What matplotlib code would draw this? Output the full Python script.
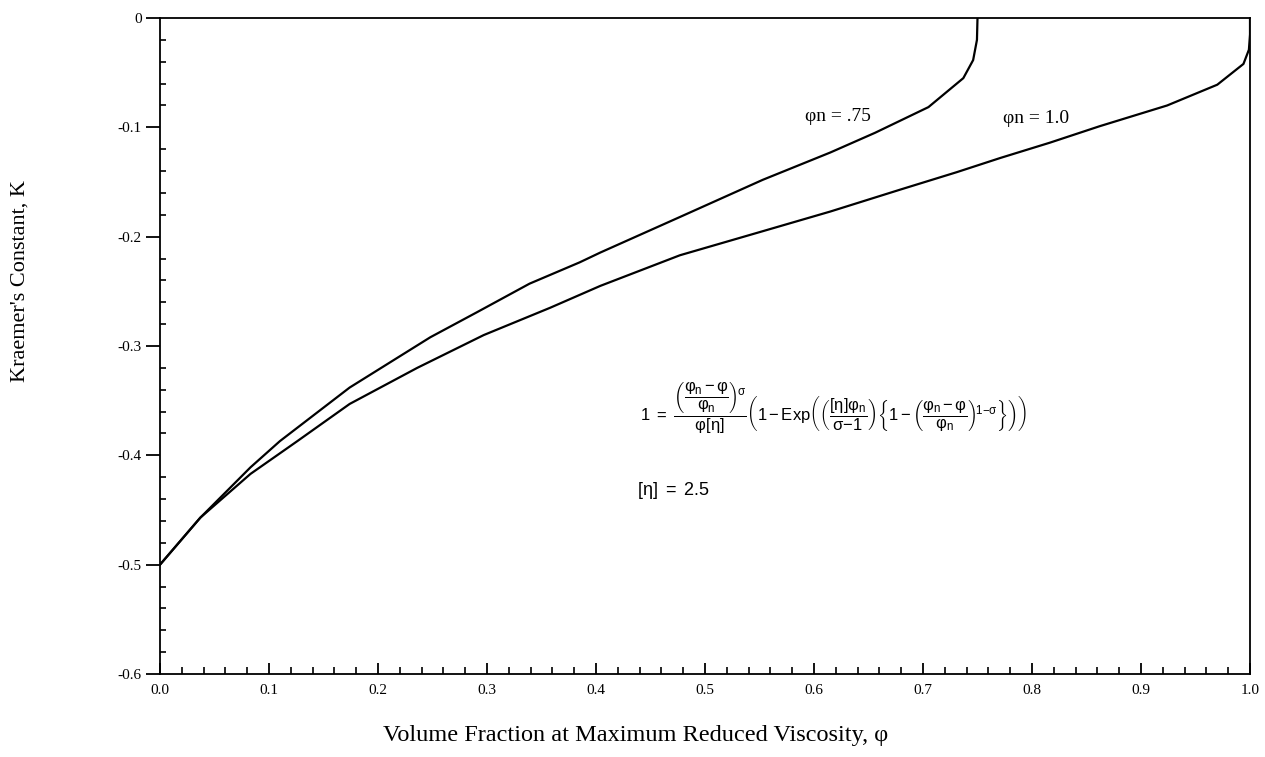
import numpy as np
import matplotlib
matplotlib.use("Agg")
import matplotlib.pyplot as plt
from matplotlib.ticker import MultipleLocator, FixedLocator, FixedFormatter

# ---------------- data: Kraemer constant vs volume fraction ----------------
phi_075 = [0.0, 0.037, 0.083, 0.110, 0.174, 0.248, 0.291, 0.339, 0.385, 0.404,
           0.477, 0.553, 0.615, 0.656, 0.705, 0.737, 0.746, 0.7495, 0.75]
k_075 = [-0.5, -0.457, -0.411, -0.387, -0.338, -0.292, -0.269, -0.243, -0.2235, -0.2145,
         -0.182, -0.148, -0.123, -0.105, -0.0815, -0.055, -0.0385, -0.020, 0.0]

phi_100 = [0.0, 0.037, 0.083, 0.126, 0.174, 0.236, 0.297, 0.358, 0.404, 0.477,
           0.553, 0.615, 0.679, 0.731, 0.771, 0.8165, 0.862, 0.924, 0.970, 0.994,
           0.999, 1.0, 1.0]
k_100 = [-0.5, -0.457, -0.417, -0.387, -0.353, -0.320, -0.290, -0.265, -0.245, -0.217,
         -0.195, -0.177, -0.157, -0.141, -0.128, -0.114, -0.099, -0.080, -0.061, -0.042,
         -0.029, -0.015, 0.0]

x_ticks = [0.0, 0.1, 0.2, 0.3, 0.4, 0.5, 0.6, 0.7, 0.8, 0.9, 1.0]
x_labels = ["0.0", "0.1", "0.2", "0.3", "0.4", "0.5", "0.6", "0.7", "0.8", "0.9", "1.0"]
y_ticks = [0.0, -0.1, -0.2, -0.3, -0.4, -0.5, -0.6]
y_labels = ["0", "-0.1", "-0.2", "-0.3", "-0.4", "-0.5", "-0.6"]

# ---------------- fonts ----------------
plt.rcParams["font.family"] = ["Liberation Serif", "DejaVu Serif"]
plt.rcParams["axes.unicode_minus"] = False
plt.rcParams["mathtext.fontset"] = "custom"
plt.rcParams["mathtext.rm"] = "Liberation Sans"
plt.rcParams["mathtext.it"] = "Liberation Sans"
plt.rcParams["mathtext.bf"] = "Liberation Sans:bold"
plt.rcParams["mathtext.sf"] = "Liberation Sans"

fig = plt.figure(figsize=(12.65, 7.57), dpi=100)
ax = fig.add_axes([160 / 1265, 1 - 674 / 757, 1090 / 1265, 656 / 757])

ax.plot(phi_075, k_075, color="black", lw=1.6)
ax.plot(phi_100, k_100, color="black", lw=1.6)

ax.set_xlim(0, 1.0)
ax.set_ylim(-0.6, 0)

for s in ax.spines.values():
    s.set_linewidth(1.3)

ax.xaxis.set_major_locator(FixedLocator(x_ticks))
ax.xaxis.set_major_formatter(FixedFormatter(x_labels))
ax.xaxis.set_minor_locator(MultipleLocator(0.02))
ax.yaxis.set_major_locator(FixedLocator(y_ticks))
ax.yaxis.set_major_formatter(FixedFormatter(y_labels))
ax.yaxis.set_minor_locator(MultipleLocator(0.02))

ax.tick_params(axis="x", which="major", direction="in", length=8, width=1.3, pad=7, labelsize=11)
ax.tick_params(axis="x", which="minor", direction="in", length=5, width=1.2)
ax.tick_params(axis="y", which="major", direction="out", length=10, width=1.3, pad=3, labelsize=11)
ax.tick_params(axis="y", which="minor", direction="in", length=4, width=1.2)
ax.tick_params(top=False, right=False, which="both")

# curve labels
ax.text(0.592, -0.09, "\u03c6n = .75", fontsize=14, va="center", ha="left")
ax.text(0.773, -0.0915, "\u03c6n = 1.0", fontsize=14, va="center", ha="left")

# model equation
m = r"\mathrm{-}"
eq = (r"$1\ =\ \dfrac{\left(\dfrac{\varphi_n\," + m + r"\,\varphi}{\varphi_n}\right)^{\!\sigma}}{\varphi[\eta]}"
      r"\left(1\," + m + r"\,\mathrm{Exp}\left(\left(\dfrac{[\eta]\varphi_n}{\sigma" + m + r"1}\right)"
      r"\left\{1\," + m + r"\,\left(\dfrac{\varphi_n\," + m + r"\,\varphi}{\varphi_n}\right)^{\!1" + m +
      r"\sigma}\right\}\right)\right)$")
ax.text(0.440, -0.357, eq, fontsize=12, va="center", ha="left")
ax.text(0.4376, -0.432, r"$[\eta]\ =\ 2.5$", fontsize=13, va="center", ha="left")

fig.text(20 / 1265, 1 - 281 / 757, "Kraemer's Constant, K", rotation=90,
         fontsize=16, va="center", ha="center")
fig.text(636 / 1265, 1 - 736 / 757, "Volume Fraction at Maximum Reduced Viscosity, \u03c6",
         fontsize=17.5, va="center", ha="center")

fig.savefig("out.png", dpi=100)
